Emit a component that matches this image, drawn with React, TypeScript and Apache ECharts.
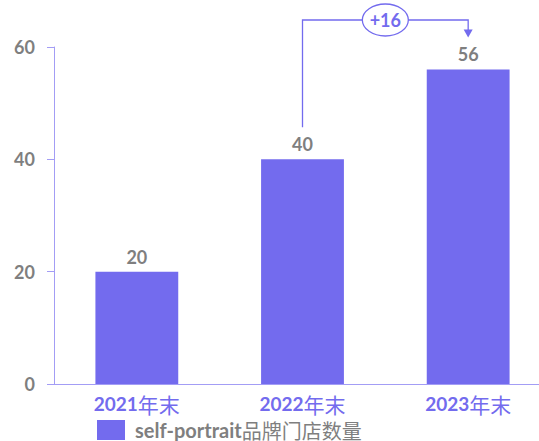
import React, { useEffect, useRef } from "react";
import * as echarts from "echarts";

const categories = ["2021年末", "2022年末", "2023年末"];
const storeCounts = [20, 40, 56];
const seriesName = "self-portrait品牌门店数量";
const deltaLabel = "+16";
const yTicks = { min: 0, max: 60, interval: 20 };

const BAR = "#736BEE";
const AXIS = "#A39DF5";
const GRAY = "#7F7F7F";
const FONT = "Lato, 'Noto Sans CJK SC', sans-serif";
const CJK = "'Noto Sans CJK SC', sans-serif";

const splitLatin = (s: string) => {
  const m = s.match(/^([\x00-\x7F]*)(.*)$/)!;
  return [m[1], m[2]];
};

export default function App() {
  const ref = useRef<HTMLDivElement>(null);
  useEffect(() => {
    const chart = echarts.init(ref.current!, null, { renderer: "svg" });
    chart.setOption({
      animation: false,
      textStyle: { fontFamily: FONT },
      grid: { left: 54, top: 47, bottom: 57, width: 497, containLabel: false, outerBoundsMode: "none" },
      legend: {
        data: [seriesName],
        left: 97,
        top: 420,
        itemWidth: 28,
        itemHeight: 20,
        itemGap: 8,
        icon: "rect",
        padding: 0,
        formatter: (name: string) => {
          const [a, b] = splitLatin(name);
          return `{a|${a}}{b|${b}}`;
        },
        textStyle: {
          color: GRAY,
          lineHeight: 20,
          rich: {
            a: { fontSize: 20, lineHeight: 20, fontWeight: "bold", fontFamily: FONT, color: GRAY, padding: [0, 0, 0, 5] },
            b: { fontSize: 20, lineHeight: 20, fontWeight: "normal", fontFamily: CJK, color: GRAY },
          },
        },
      },
      xAxis: {
        type: "category",
        data: categories,
        axisLine: { lineStyle: { color: AXIS, width: 1 } },
        axisTick: { show: false },
        axisLabel: {
          margin: 9,
          lineHeight: 21,
          formatter: (v: string) => {
            const [a, b] = splitLatin(v);
            return `{a|${a}}{b|${b}}`;
          },
          rich: {
            a: { fontSize: 19, lineHeight: 21, fontWeight: "bold", fontFamily: FONT, color: BAR },
            b: { fontSize: 21, lineHeight: 21, fontWeight: "normal", fontFamily: CJK, color: BAR },
          },
        },
      },
      yAxis: {
        type: "value",
        min: yTicks.min,
        max: yTicks.max,
        interval: yTicks.interval,
        splitLine: { show: false },
        axisLine: { show: true, lineStyle: { color: AXIS, width: 1 } },
        axisTick: { show: true, length: 7, lineStyle: { color: AXIS } },
        axisLabel: { color: GRAY, fontSize: 18, fontWeight: "bold", margin: 19, fontFamily: FONT },
      },
      series: [
        {
          name: seriesName,
          type: "bar",
          data: storeCounts,
          barWidth: "50%",
          itemStyle: { color: BAR },
          label: {
            show: true,
            position: "top",
            distance: 6,
            color: GRAY,
            fontSize: 18,
            fontWeight: "bold",
            fontFamily: FONT,
          },
        },
      ],
    });

    const a = chart.convertToPixel({ seriesIndex: 0 }, [1, storeCounts[1]]) as number[];
    const b = chart.convertToPixel({ seriesIndex: 0 }, [2, storeCounts[2]]) as number[];
    const topY = 20;
    const gap = 32;
    const midX = (a[0] + b[0]) / 2;
    const tipY = b[1] - gap;
    chart.setOption({
      graphic: [
        {
          type: "polyline",
          shape: {
            points: [
              [a[0], a[1] - gap],
              [a[0], topY],
              [b[0], topY],
              [b[0], tipY - 7],
            ],
          },
          style: { stroke: BAR, lineWidth: 1.3, fill: null },
        },
        {
          type: "polygon",
          shape: {
            points: [
              [b[0] - 4.5, tipY - 8],
              [b[0] + 4.5, tipY - 8],
              [b[0], tipY],
            ],
          },
          style: { fill: BAR },
        },
        {
          type: "ellipse",
          shape: { cx: midX, cy: topY, rx: 23, ry: 16 },
          style: { fill: "#fff", stroke: BAR, lineWidth: 1.3 },
        },
        {
          type: "text",
          x: midX,
          y: topY,
          style: {
            text: deltaLabel,
            fill: BAR,
            fontSize: 18,
            fontWeight: "bold",
            fontFamily: FONT,
            align: "center",
            verticalAlign: "middle",
          },
        },
      ],
    });
    return () => chart.dispose();
  }, []);
  return <div ref={ref} style={{ width: 539, height: 441, position: "absolute", left: 0, top: 0 }} />;
}
